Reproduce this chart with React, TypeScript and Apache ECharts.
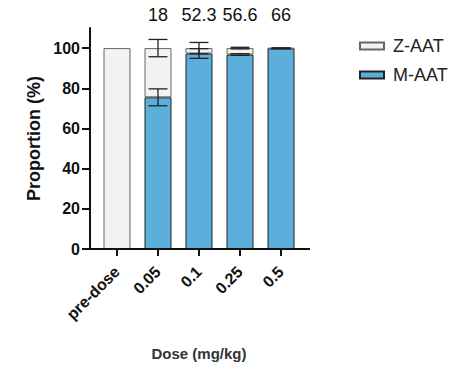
import React, { useEffect, useRef } from "react";
import * as echarts from "echarts";

const categories = ["pre-dose", "0.05", "0.1", "0.25", "0.5"];
const mAAT = [0, 75.5, 97.3, 96.8, 99.8];
const zAAT = [100, 24.5, 2.7, 3.2, 0.2];
const mErr = [0, 4.2, 2.4, 0.4, 0.1];
const zErr = [0, 4.3, 2.8, 0.4, 0.1];
const topLabels = ["", "18", "52.3", "56.6", "66"];
const yTicks = [0, 20, 40, 60, 80, 100];

const FONT = "'Liberation Sans', Arial, sans-serif";

export default function App() {
  const ref = useRef<HTMLDivElement>(null);
  useEffect(() => {
    if (!ref.current) return;
    const chart = echarts.init(ref.current, null, { renderer: "svg" });
    const errData: number[][] = [];
    categories.forEach((_, i) => {
      if (mErr[i] > 0) errData.push([i, mAAT[i], mErr[i]]);
      if (zErr[i] > 0) errData.push([i, mAAT[i] + zAAT[i], zErr[i]]);
    });
    chart.setOption({
      animation: false,
      textStyle: { fontFamily: FONT },
      grid: { left: 96.5, right: 172.5, top: 28, bottom: 116, containLabel: false, outerBoundsMode: "none" },
      legend: {
        orient: "vertical",
        left: 354,
        top: 32,
        itemWidth: 24,
        itemHeight: 7,
        itemGap: 11,
        icon: "rect",
        data: ["Z-AAT", "M-AAT"],
        textStyle: { fontSize: 18, color: "#222", fontFamily: FONT, padding: [0, 0, 0, 4] },
      },
      xAxis: [
        {
          type: "category",
          data: categories,
          position: "bottom",
          axisLine: { show: false },
          axisTick: { show: true, alignWithLabel: true, length: 7, lineStyle: { color: "#111", width: 2 } },
          axisLabel: { interval: 0, rotate: 45, margin: 20, fontSize: 16, fontWeight: "bold", color: "#111", fontFamily: FONT },
          name: "Dose (mg/kg)",
          nameLocation: "middle",
          nameGap: 97,
          nameTextStyle: { fontSize: 15, fontWeight: "bold", color: "#333", fontFamily: FONT },
        },
        {
          type: "category",
          data: topLabels,
          position: "top",
          axisLine: { show: false },
          axisTick: { show: false },
          axisLabel: { interval: 0, hideOverlap: false, margin: 4, fontSize: 18, color: "#111", fontFamily: FONT },
        },
      ],
      yAxis: {
        type: "value",
        min: 0,
        max: 110,
        offset: 6.5,
        splitLine: { show: false },
        axisLine: { show: true, lineStyle: { color: "#111", width: 2 } },
        axisTick: { show: true, length: 8, customValues: yTicks, lineStyle: { color: "#111", width: 2 } },
        axisLabel: { customValues: yTicks, margin: 10, fontSize: 16, fontWeight: "bold", color: "#111", fontFamily: FONT },
        name: "Proportion (%)",
        nameLocation: "middle",
        nameGap: 47,
        nameTextStyle: { fontSize: 18, fontWeight: "bold", color: "#111", fontFamily: FONT },
      },
      series: [
        {
          name: "M-AAT",
          type: "bar",
          stack: "a",
          barWidth: 27,
          data: mAAT.map((v) => (v === 0 ? "-" : v)),
          itemStyle: { color: "#5BAFDA", borderColor: "#222", borderWidth: 1 },
        },
        {
          name: "Z-AAT",
          type: "bar",
          stack: "a",
          barWidth: 27,
          data: zAAT,
          itemStyle: { color: "#F2F2F2", borderColor: "#666", borderWidth: 1 },
        },
        {
          name: "err",
          type: "custom",
          z: 10,
          data: errData,
          encode: { x: 0, y: 1 },
          renderItem: (params: any, api: any) => {
            const x = api.value(0);
            const c = api.value(1);
            const e = api.value(2);
            const top = api.coord([x, c + e]);
            const bot = api.coord([x, c - e]);
            const hw = 9.5;
            const style = { stroke: "#222", lineWidth: 1.3 };
            return {
              type: "group",
              children: [
                { type: "line", shape: { x1: top[0], y1: top[1], x2: bot[0], y2: bot[1] }, style },
                { type: "line", shape: { x1: top[0] - hw, y1: top[1], x2: top[0] + hw, y2: top[1] }, style },
                { type: "line", shape: { x1: bot[0] - hw, y1: bot[1], x2: bot[0] + hw, y2: bot[1] }, style },
              ],
            };
          },
        },
      ],
      graphic: [
        {
          type: "line",
          shape: { x1: 89, y1: 249, x2: 310, y2: 249 },
          style: { stroke: "#111", lineWidth: 2 },
          z: 5,
        },
      ],
    });
    return () => chart.dispose();
  }, []);
  return (
    <div
      ref={ref}
      style={{ position: "fixed", left: 0, top: 0, width: 474, height: 365, background: "#fff" }}
    />
  );
}
